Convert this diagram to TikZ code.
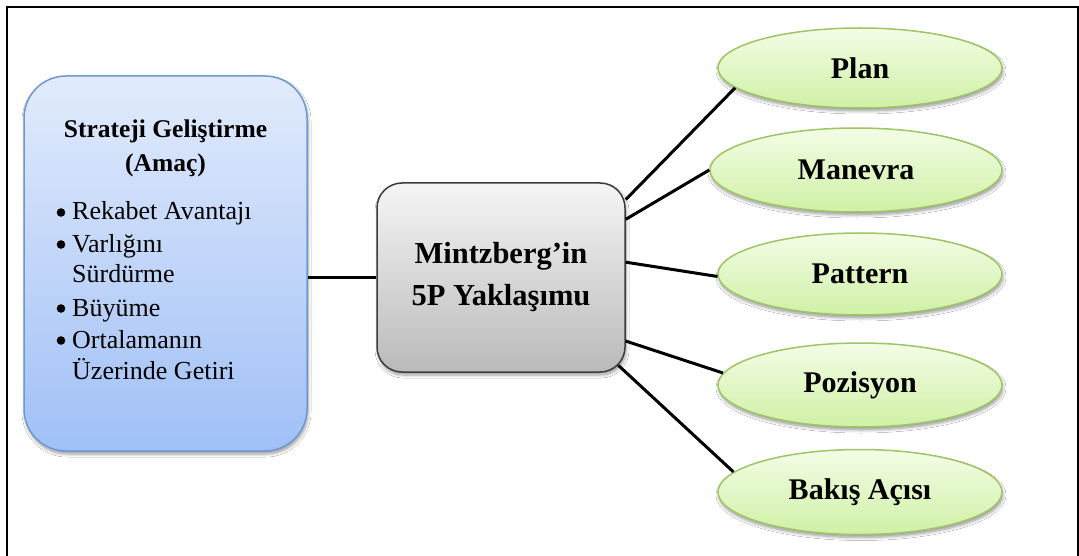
\documentclass[tikz,border=0pt]{standalone}
\usepackage{fontspec}
\setmainfont{Liberation Serif}
\usetikzlibrary{shapes.geometric,shadows.blur,calc}
\definecolor{lbTop}{RGB}{226,235,252}
\definecolor{lbBot}{RGB}{160,192,246}
\definecolor{lbBorder}{RGB}{110,152,212}
\definecolor{cTop}{RGB}{245,245,245}
\definecolor{cBot}{RGB}{186,186,186}
\definecolor{cBorder}{RGB}{60,60,60}
\definecolor{eTop}{RGB}{243,253,230}
\definecolor{eBot}{RGB}{208,240,166}
\definecolor{eBorder}{RGB}{158,198,100}
\begin{document}
\begin{tikzpicture}[x=1pt,y=-1pt,
  conn/.style={line width=3pt, black},
  frameline/.style={line width=2pt, black},
  bulletdot/.style={fill=black},
  leftbox/.style={rectangle, rounded corners=42pt, minimum width=283pt, minimum height=375pt,
    draw=lbBorder, line width=1.5pt, top color=lbTop, bottom color=lbBot,
    blur shadow={shadow xshift=1pt, shadow yshift=-3pt, shadow blur steps=6, shadow blur radius=3pt}},
  centerbox/.style={rectangle, rounded corners=25pt, minimum width=248pt, minimum height=189pt,
    draw=cBorder, line width=1.5pt, top color=cTop, bottom color=cBot, align=center,
    font=\fontsize{30.5}{42}\selectfont\bfseries,
    blur shadow={shadow xshift=1pt, shadow yshift=-3pt, shadow blur steps=6, shadow blur radius=3pt}},
  pellipse/.style={ellipse, minimum width=284pt, minimum height=82pt, inner sep=0pt,
    draw=eBorder, line width=1.5pt, top color=eTop, bottom color=eBot,
    font=\fontsize{30}{36}\selectfont\bfseries,
    blur shadow={shadow xshift=1pt, shadow yshift=-3pt, shadow blur steps=6, shadow blur radius=3pt}},
  titletext/.style={anchor=base, inner sep=0pt, font=\fontsize{25.5}{30}\selectfont\bfseries},
  itemtext/.style={anchor=base west, inner sep=0pt, font=\fontsize{26}{30}\selectfont}
]
\useasboundingbox (0,0) rectangle (1079,556);
\fill[white] (0,0) rectangle (1079,556);
\draw[frameline] (7,556) -- (7,7) -- (1077.5,7) -- (1077.5,556);

% left box
\node[leftbox] (L) at (165.5,263.5) {};
\node[titletext] (t1) at (165.5,138) {Strateji Geliştirme};
\node[titletext] (t2) at (165.5,172) {(Amaç)};
\fill[bulletdot] (61,212.5) circle (4.3pt);
\fill[bulletdot] (61,244.5) circle (4.3pt);
\fill[bulletdot] (61,308.5) circle (4.3pt);
\fill[bulletdot] (61,340.5) circle (4.3pt);
\node[itemtext] (i1) at (72,220) {Rekabet Avantajı};
\node[itemtext] (i2) at (72,252) {Varlığını};
\node[itemtext] (i2b) at (72,283) {Sürdürme};
\node[itemtext] (i3) at (72,316) {Büyüme};
\node[itemtext] (i4) at (72,348) {Ortalamanın};
\node[itemtext] (i4b) at (72,379) {Üzerinde Getiri};

% center box
\node[centerbox] (C) at (501,277.5) {Mintzberg’in\\5P Yaklaşımu};

% ellipses
\node[pellipse, minimum height=80pt] (P1) at (860,68) {Plan};
\node[pellipse, minimum width=292pt, minimum height=84pt] (P2) at (856,170) {Manevra};
\node[pellipse] (P3) at (860,274) {Pattern};
\node[pellipse, minimum height=84pt] (P4) at (860,385) {Pozisyon};
\node[pellipse, minimum height=85pt] (P5) at (860,492) {Bakış Açısı};

% connectors
\coordinate (Ccorner) at ($(C.south east)+(-7.3,-7.3)$);
\draw[conn] (C.west) -- (C.west -| L.east);
\draw[conn] (C.32.7) -- (P1.189.7);
\draw[conn] (C.25.3) -- (P2.west);
\draw[conn] (C.7.6) -- (P3.181.2);
\draw[conn] (C.-27.8) -- (P4.175.2);
\draw[conn] (Ccorner) -- (P5.171.2);
\end{tikzpicture}
\end{document}
